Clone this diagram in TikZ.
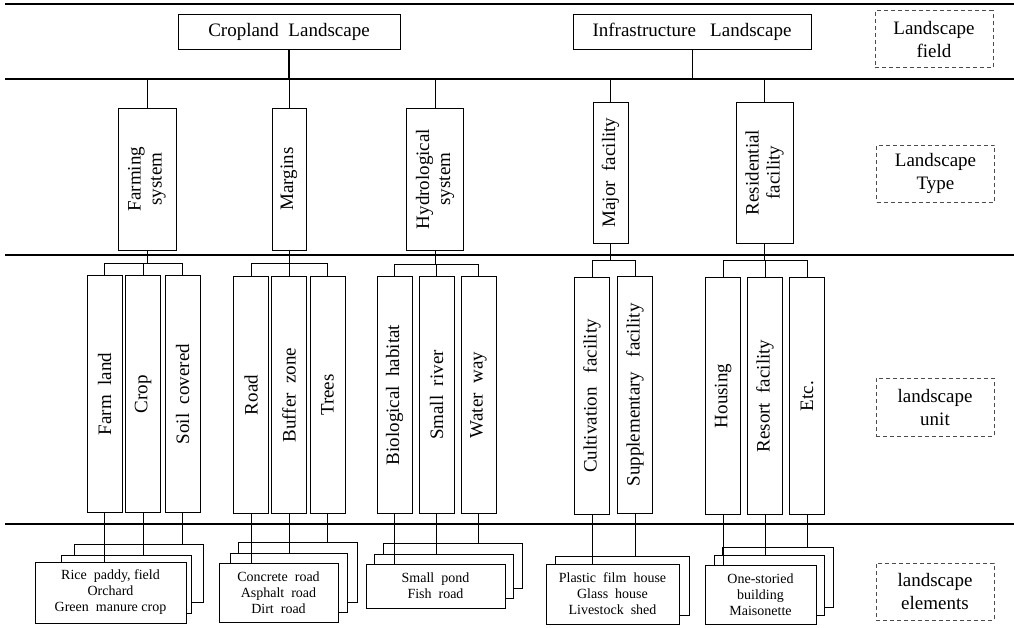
\documentclass[tikz,border=0pt]{standalone}
\usepackage{fontspec}
\setmainfont{Liberation Serif}

\begin{document}
\begin{tikzpicture}[x=1pt,y=-1pt,
  band/.style={line width=1.1pt},
  link/.style={line width=1pt},
  box/.style={draw,line width=1pt,inner sep=0pt,font=\fontsize{19}{21}\selectfont},
  vlabel/.style={rotate=90,align=center,font=\fontsize{19}{21}\selectfont},
  unitbox/.style={box,minimum width=35pt,minimum height=237pt},
  elbox/.style={draw,fill=white,line width=1pt,inner sep=0pt,align=center,font=\fontsize{14}{16}\selectfont},
  tagbox/.style={draw=black!70,dash pattern=on 4pt off 3pt,line width=1pt,inner sep=0pt,align=center,
    minimum width=118pt,minimum height=57pt,font=\fontsize{19}{23}\selectfont}]
\useasboundingbox (0,0) rectangle (1014,627);
%\draw[help lines] (0,0) grid[step=50] (1014,627);

% bands
\draw[band] (5,4) -- (1014,4);
\draw[band] (5,79) -- (1014,79);
\draw[band] (5,255) -- (1014,255);
\draw[band] (5,524) -- (1014,524);

% landscape field
\node[box,minimum width=222pt,minimum height=35pt] (cropland) at (289,31.5) {Cropland\ \ Landscape};
\node[box,minimum width=238pt,minimum height=35pt] (infra) at (692,31.5) {Infrastructure\ \ \ Landscape};

% landscape type
\node[box,minimum width=58pt,minimum height=142pt,label={[vlabel]center:Farming\\system}] (farming) at (147,179) {};
\node[box,minimum width=34pt,minimum height=142pt,label={[vlabel]center:Margins}] (margins) at (289,179) {};
\node[box,minimum width=57pt,minimum height=142pt,label={[vlabel]center:Hydrological\\system}] (hydro) at (435,179) {};
\node[box,minimum width=35pt,minimum height=141pt,label={[vlabel]center:Major\ \ facility}] (major) at (610.5,172.5) {};
\node[box,minimum width=57pt,minimum height=141pt,label={[vlabel]center:Residential\\facility}] (resid) at (764.5,172.5) {};

% landscape unit
\node[unitbox,label={[vlabel]center:Farm\ \ land}] (farmland) at (104.5,394) {};
\node[unitbox,label={[vlabel]center:Crop}] (crop) at (143,394) {};
\node[unitbox,label={[vlabel]center:Soil\ \ covered}] (soil) at (182.5,394) {};
\node[unitbox,label={[vlabel]center:Road}] (road) at (251,395) {};
\node[unitbox,label={[vlabel]center:Buffer\ \ zone}] (buffer) at (289,395) {};
\node[unitbox,label={[vlabel]center:Trees}] (trees) at (327.5,395) {};
\node[unitbox,label={[vlabel]center:Biological\ \ habitat}] (habitat) at (394.5,395) {};
\node[unitbox,label={[vlabel]center:Small\ \ river}] (river) at (436.5,395) {};
\node[unitbox,label={[vlabel]center:Water\ \ way}] (waterway) at (478.5,395) {};
\node[unitbox,label={[vlabel]center:Cultivation\ \ \ facility}] (cultiv) at (592,396) {};
\node[unitbox,label={[vlabel]center:Supplementary\ \ \ facility}] (supply) at (635,395) {};
\node[unitbox,label={[vlabel]center:Housing}] (housing) at (723,396) {};
\node[unitbox,label={[vlabel]center:Resort\ \ facility}] (resort) at (765,396) {};
\node[unitbox,label={[vlabel]center:Etc.}] (etcunit) at (807,396) {};

% landscape elements (back to front)
\node[elbox,minimum width=129pt,minimum height=58pt] (farmC) at (138.5,573) {};
\node[elbox,minimum width=130pt,minimum height=58pt] (farmB) at (126,584) {};
\node[elbox,minimum width=151pt,minimum height=61pt] (farmA) at (110.5,592.5) {Rice\ \ paddy,\ field\\Orchard\\Green\ \ manure\ crop};
\node[elbox,minimum width=119pt,minimum height=60pt] (margC) at (297.5,572) {};
\node[elbox,minimum width=117pt,minimum height=59pt] (margB) at (288.5,582.5) {};
\node[elbox,minimum width=119pt,minimum height=59pt] (margA) at (278.5,592.5) {Concrete\ \ road\\Asphalt\ \ road\\Dirt\ \ road};
\node[elbox,minimum width=139pt,minimum height=45pt] (hydC) at (452.5,565.5) {};
\node[elbox,minimum width=139pt,minimum height=44pt] (hydB) at (443.5,576) {};
\node[elbox,minimum width=139pt,minimum height=44pt] (hydA) at (435.5,586) {Small\ \ pond\\Fish\ \ road};
\node[elbox,minimum width=134pt,minimum height=59pt] (majB) at (622,585.5) {};
\node[elbox,minimum width=133pt,minimum height=60pt] (majA) at (612.5,594) {Plastic\ \ film\ \ house\\Glass\ \ house\\Livestock\ \ shed};
\node[elbox,minimum width=111pt,minimum height=60pt] (resC) at (777.5,577) {};
\node[elbox,minimum width=110pt,minimum height=60pt] (resB) at (769,585) {};
\node[elbox,minimum width=111pt,minimum height=59pt] (resA) at (760.5,594.5) {One-storied\\building\\Maisonette};

% level tags
\node[tagbox] (tagfield) at (934,39) {Landscape\\field};
\node[tagbox] (tagtype) at (935.5,173.5) {Landscape\\Type};
\node[tagbox,minimum height=58pt] (tagunit) at (935,407) {landscape\\unit};
\node[tagbox] (tagelem) at (935,591.5) {landscape\\elements};

% field -> type
\draw[link,line width=1.3pt] (cropland.south) -- ++(0,30) coordinate (cropbar);
\draw[link] (farming.north) |- (cropbar) -| (hydro.north);
\draw[link] (margins.north) -- (cropbar -| margins.north);
\draw[link] (infra.south) -- ++(0,30) coordinate (infrabar);
\draw[link] (major.north) |- (infrabar) -| (resid.north);

% type -> unit
\draw[link] (farming.south) -- ++(0,13) coordinate (farmbar);
\draw[link] (farmland.north) |- (farmbar) -| (soil.north);
\draw[link] (crop.north) -- (farmbar -| crop.north);
\draw[link] (margins.south) -- ++(0,13) coordinate (margbar);
\draw[link] (road.north) |- (margbar) -| (trees.north);
\draw[link] (buffer.north) -- (margbar -| buffer.north);
\draw[link] (hydro.south) -- ++(0,14) coordinate (hydbar);
\draw[link] (habitat.north) |- (hydbar) -| (waterway.north);
\draw[link] (river.north) -- (hydbar -| river.north);
\draw[link] (major.south) -- ++(0,17) coordinate (majbar);
\draw[link] (cultiv.north) |- (majbar) -| (supply.north);
\draw[link,line width=1.3pt] (resid.south) -- ++(0,17) coordinate (resbar);
\draw[link] (housing.north) |- (resbar) -| (etcunit.north);
\draw[link] (resort.north) -- (resbar -| resort.north);

% unit -> elements
\draw[link] (farmland.south) -- (farmland.south |- farmA.north);
\draw[link] (crop.south) -- (crop.south |- farmB.north);
\draw[link] (soil.south) -- (soil.south |- farmC.north);
\draw[link] (road.south) -- (road.south |- margA.north);
\draw[link] (buffer.south) -- (buffer.south |- margB.north);
\draw[link] (trees.south) -- (trees.south |- margC.north);
\draw[link] (habitat.south) -- (habitat.south |- hydA.north);
\draw[link] (river.south) -- (river.south |- hydB.north);
\draw[link] (waterway.south) -- (waterway.south |- hydC.north);
\draw[link] (cultiv.south) -- (cultiv.south |- majA.north);
\draw[link] (supply.south) -- (supply.south |- majB.north);
\draw[link] (housing.south) -- (housing.south |- resA.north);
\draw[link] (resort.south) -- (resort.south |- resB.north);
\draw[link] (etcunit.south) -- (etcunit.south |- resC.north);
\end{tikzpicture}
\end{document}
